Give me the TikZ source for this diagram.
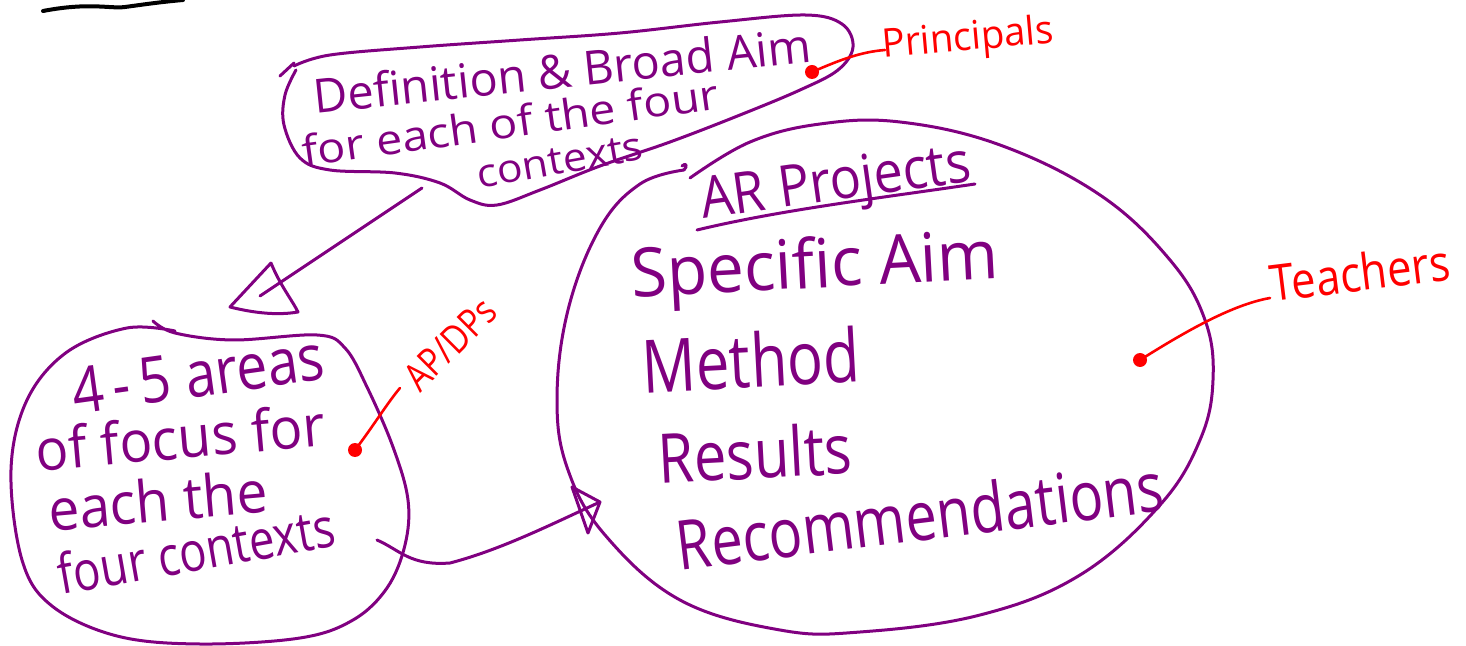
\documentclass[tikz,border=0pt]{standalone}
\usepackage{fontspec}
\usepackage{graphicx}
\setmainfont{Open Sans}
\definecolor{pen}{RGB}{128,0,128}
\definecolor{redpen}{RGB}{255,0,0}
\newcommand{\fitbox}[3]{\resizebox{#1pt}{#2pt}{#3}}
\tikzset{
  stroke/.style={draw=pen, line width=1.5pt, line cap=round, line join=round},
  redstroke/.style={draw=redpen, line width=1.3pt, line cap=round, line join=round},
  ink/.style={text=pen, inner sep=0pt, font=\fontsize{20}{22}\selectfont},
  redink/.style={text=redpen, inner sep=0pt, font=\fontsize{20}{22}\selectfont},
  dotmark/.style={fill=redpen, circle, inner sep=0pt, minimum size=7pt}
}
\begin{document}
\begin{tikzpicture}[x=0.5pt,y=-0.5pt]
\useasboundingbox (0,0) rectangle (1466,646);
% black stroke top left
\coordinate (k1) at (43,11);
\coordinate (k2) at (183,0);
\draw[line width=2pt, line cap=round] (k1) .. controls (90,2) and (110,9) .. (125,7) .. controls (140,5) and (160,2) .. (k2);

% top blob
\draw[stroke] (280,76) -- (294,63);
\draw[stroke] plot[smooth, tension=0.6] coordinates {(294,66) (330,55) (420,47) (520,40) (620,33) (720,22) (805,15) (842,24) (853,47) (838,70) (800,90) (740,115) (670,142) (600,166) (540,190) (497,205) (470,200) (440,183) (395,173) (330,170) (300,158) (284,125) (285,95) (296,70)};

% text in top blob
\node[ink, rotate=6] (def) at (562,70) {\fitbox{250}{18}{Definition \& Broad Aim}};
\node[ink, rotate=8] (fore) at (510,122) {\fitbox{210}{16}{for each of the four}};
\node[ink, rotate=10] (ctx) at (560,161) {\fitbox{84}{13}{contexts}};

% Principals
\node[dotmark] (pdot) at (812,72) {};
\coordinate (pend) at (885,50);
\draw[redstroke] (pdot.center) .. controls (840,60) and (860,52) .. (pend);
\node[redink, rotate=5] (prin) at (968,40) {\fitbox{86}{15}{Principals}};

% arrow 1 : top blob -> left blob
\coordinate (a1s) at (422,188);
\coordinate (a1e) at (260,296);
\draw[stroke] (a1s) -- (a1e);
\coordinate (t1a) at (230,307);
\coordinate (t1b) at (271,263);
\coordinate (t1c) at (298,312);
\draw[stroke] (t1b) .. controls (280,285) and (292,300) .. (t1c) .. controls (275,316) and (250,312) .. (t1a) -- (t1b);

% left blob
\draw[stroke] plot[smooth, tension=0.6] coordinates {(153,321) (175,333) (233,340) (317,335) (345,348) (367,387) (393,447) (408,500) (405,545) (387,588) (353,620) (300,638) (200,644) (117,636) (52,606) (22,560) (11,470) (27,400) (67,352) (127,328) (175,331)};
\node[ink, rotate=8] (l1) at (198,374) {\fitbox{127}{23}{4\,-\,5 areas}};
\node[ink, rotate=5] (l2) at (180,437) {\fitbox{145}{22}{of focus for}};
\node[ink, rotate=5] (l3) at (158,500) {\fitbox{110}{22}{each the}};
\node[ink, rotate=10] (l4) at (196,550) {\fitbox{140}{21}{four contexts}};

% AP/DPs
\node[dotmark] (adot) at (355,450) {};
\coordinate (aend) at (400,388);
\draw[redstroke] (adot.center) .. controls (372,428) and (388,402) .. (aend);
\node[redink, rotate=45] (apdp) at (450,344) {\fitbox{56}{14}{AP/DPs}};

% arrow 2 : left blob -> big ellipse
\coordinate (a2s) at (377,540);
\coordinate (a2e) at (600,502);
\draw[stroke] (a2s) .. controls (400,550) and (410,566) .. (450,563) .. controls (500,550) and (550,525) .. (a2e);
\coordinate (t2a) at (572,487);
\coordinate (t2c) at (588,533);
\draw[stroke] (t2a) -- (a2e) -- (t2c) -- (t2a);

% big ellipse
\draw[stroke] (682,166) .. controls (686,162) and (688,166) .. (684,170);
\draw[stroke] plot[smooth, tension=0.65] coordinates {(684,170) (640,184) (600,228) (568,310) (557,400) (568,470) (605,535) (680,600) (780,630) (860,632) (980,615) (1080,575) (1160,505) (1200,440) (1213,380) (1205,320) (1170,260) (1100,195) (1000,145) (900,122) (820,124) (750,142) (690,178)};

% text in big ellipse
\node[ink, rotate=8] (arp) at (836,186) {\fitbox{136}{21}{AR Projects}};
\coordinate (u1) at (697,230);
\coordinate (u2) at (975,184);
\draw[stroke] (u1) .. controls (780,210) and (880,198) .. (u2);
\node[ink, rotate=3] (spec) at (815,270) {\fitbox{184}{26}{Specific Aim}};
\node[ink, rotate=3] (meth) at (751,360) {\fitbox{109}{28}{Method}};
\node[ink, rotate=3] (res) at (755,453) {\fitbox{97}{26}{Results}};
\node[ink, rotate=7] (rec) at (920,515) {\fitbox{245}{26}{Recommendations}};

% Teachers
\node[dotmark] (tdot) at (1140,360) {};
\coordinate (tend) at (1270,298);
\draw[redstroke] (tdot.center) .. controls (1180,335) and (1230,305) .. (tend);
\node[redink, rotate=7] (teach) at (1360,272) {\fitbox{90}{19}{Teachers}};
\end{tikzpicture}
\end{document}
